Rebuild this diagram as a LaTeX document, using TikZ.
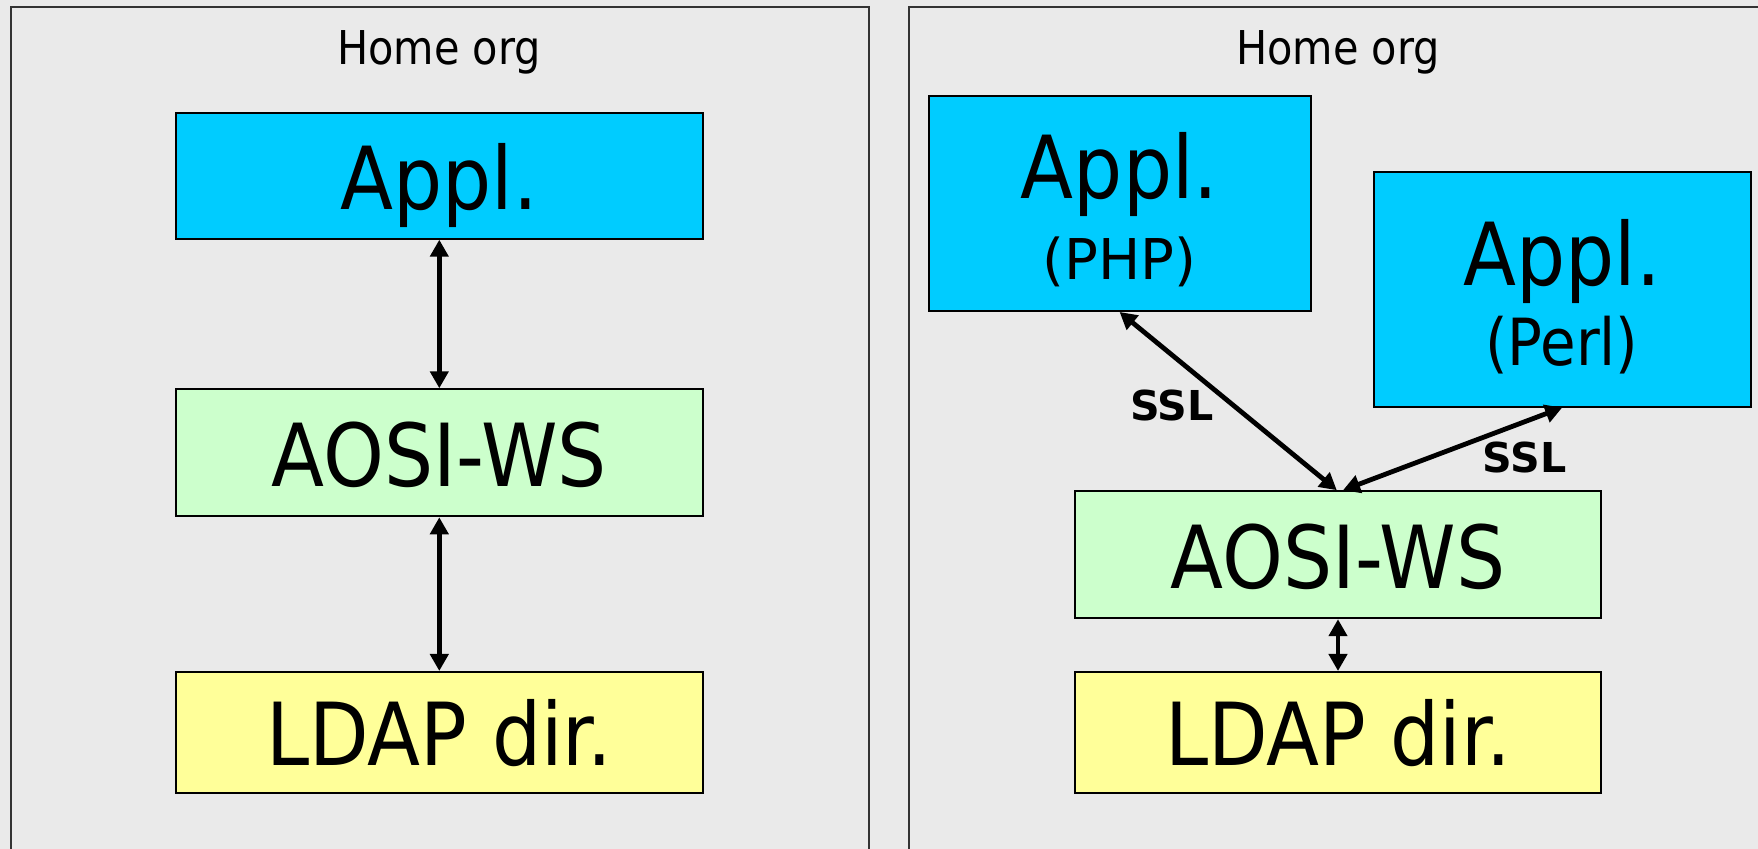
\documentclass[tikz,border=0pt]{standalone}
\usepackage{fontspec}
\setmainfont{DejaVu Sans}[FakeStretch=0.89]
\newfontfamily\plainfont{DejaVu Sans}
\usetikzlibrary{arrows.meta}
\definecolor{bg}{RGB}{234,234,234}
\definecolor{applc}{RGB}{0,204,255}
\definecolor{aosic}{RGB}{204,255,204}
\definecolor{ldapc}{RGB}{255,255,153}
\definecolor{framec}{RGB}{51,51,51}
\begin{document}
\begin{tikzpicture}[x=0.5pt,y=-0.5pt,
  box/.style={draw=black, line width=1pt, inner sep=0pt, font=\fontsize{43.5}{50}\selectfont},
  single/.style={text height=33.5pt, text depth=0pt},
  applbox/.style={box, fill=applc},
  aosibox/.style={box, single, fill=aosic, minimum width=263.3pt, minimum height=63.5pt},
  ldapbox/.style={box, single, fill=ldapc, minimum width=263.3pt, minimum height=60.5pt},
  title/.style={anchor=base, inner sep=0pt, font=\fontsize{23.3}{28}\selectfont},
  sub/.style={anchor=base, inner sep=0pt},
  ssl/.style={anchor=base, inner sep=0pt, font=\plainfont\bfseries\fontsize{20.6}{25}\selectfont},
  link/.style={line width=2.4pt, {Triangle[length=8.5pt,width=9pt]}-{Triangle[length=8.5pt,width=9pt]}},
  panel/.style={draw=framec, line width=0.75pt}]
\useasboundingbox (0,0) rectangle (1758,849);
\fill[bg] (0,0) rectangle (1758,849);
\clip (0,0) rectangle (1758,849);
% panels
\draw[panel] (11,7) rectangle (869,900);
\draw[panel] (909,7) rectangle (1800,900);
% titles
\node[title] (t1) at (439.2,65) {Home org};
\node[title] (t2) at (1338,65) {Home org};
% left column
\node[applbox, single, minimum width=263.3pt, minimum height=63pt] (appl1) at (439.3,175.7) {Appl.};
\node[aosibox] (aosi1) at (439.3,452.8) {AOSI-WS};
\node[ldapbox] (ldap1) at (439.3,732.5) {LDAP dir.};
\draw[link] (appl1.south) -- (aosi1.north);
\draw[link] (aosi1.south) -- (ldap1.north);
% right column
\node[applbox, minimum width=191pt, minimum height=107.3pt, text height=31.5pt, text depth=36.5pt] (php) at (1119.6,203.7) {Appl.};
\node[sub, font=\plainfont\fontsize{28.1}{34}\selectfont] (phpsub) at (1119.6,279.3) {(PHP)};
\node[applbox, minimum width=188.5pt, minimum height=117.5pt, text height=31.5pt, text depth=35.3pt] (perl) at (1562.2,289.1) {Appl.};
\node[sub, font=\fontsize{32.5}{38}\selectfont] (perlsub) at (1561.7,366) {(Perl)};
\node[aosibox] (aosi2) at (1338,554.7) {AOSI-WS};
\node[ldapbox] (ldap2) at (1338,732.5) {LDAP dir.};
\draw[link] (php.south) -- ([xshift=-0.6pt]aosi2.north);
\draw[link] (perl.south) -- ([xshift=2.5pt]aosi2.north);
\draw[link] (aosi2.south) -- (ldap2.north);
\node[ssl] (ssl1) at (1172,421) {SSL};
\node[ssl] (ssl2) at (1524.5,473) {SSL};
\end{tikzpicture}
\end{document}
